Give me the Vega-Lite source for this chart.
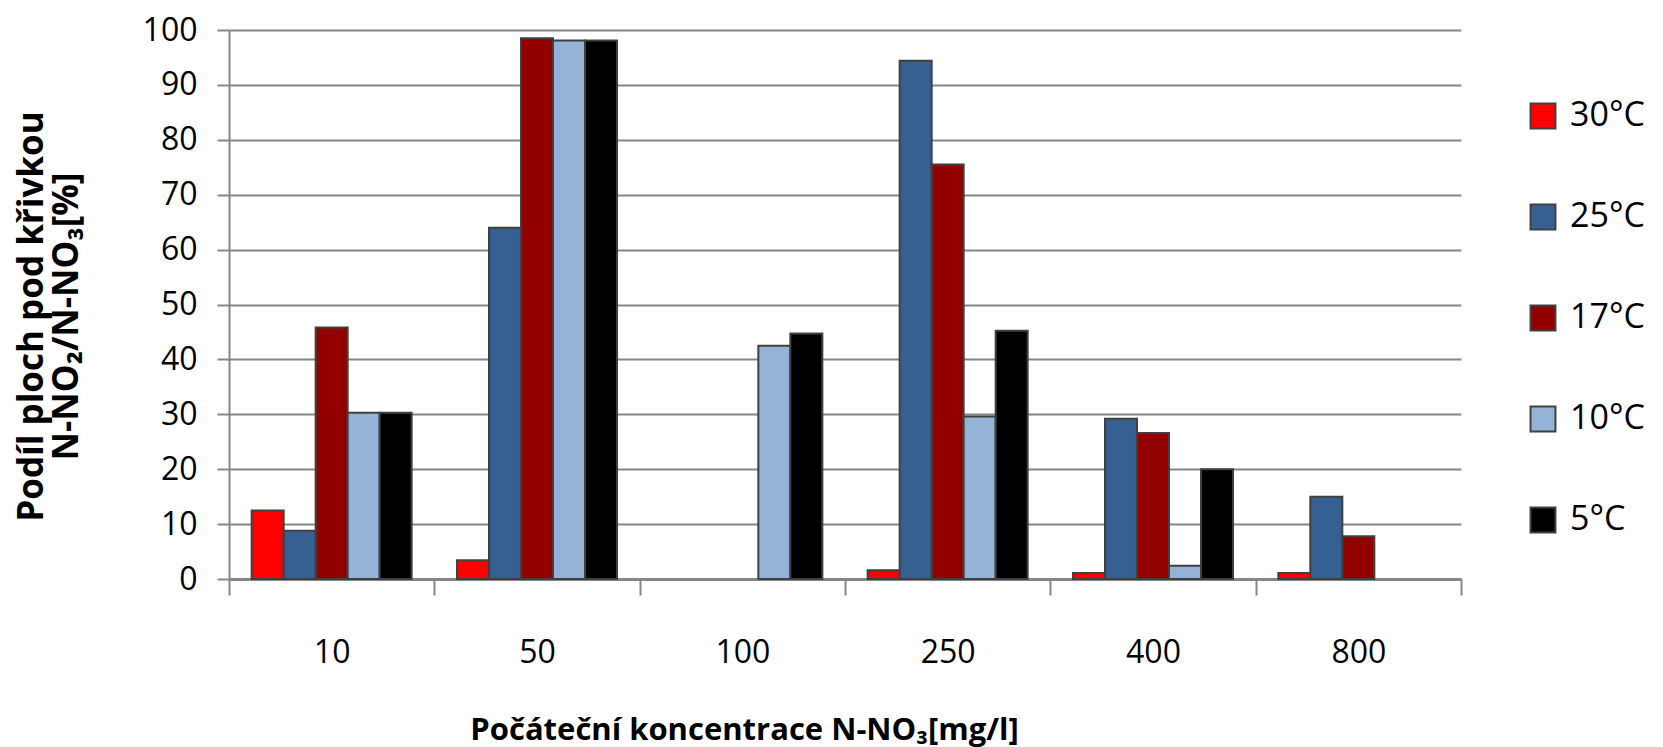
{
  "$schema": "https://vega.github.io/schema/vega-lite/v6.json",
  "autosize": {"type": "none"},
  "padding": {"left": 229, "top": 30, "right": 202, "bottom": 168},
  "width": 1232,
  "height": 549,
  "background": "white",
  "data": {
    "values": [
      {"konc": "10", "teplota": "30°C", "podil": 12.5},
      {"konc": "10", "teplota": "25°C", "podil": 8.8},
      {"konc": "10", "teplota": "17°C", "podil": 45.8},
      {"konc": "10", "teplota": "10°C", "podil": 30.3},
      {"konc": "10", "teplota": "5°C", "podil": 30.3},
      {"konc": "50", "teplota": "30°C", "podil": 3.4},
      {"konc": "50", "teplota": "25°C", "podil": 64.0},
      {"konc": "50", "teplota": "17°C", "podil": 98.5},
      {"konc": "50", "teplota": "10°C", "podil": 98.1},
      {"konc": "50", "teplota": "5°C", "podil": 98.1},
      {"konc": "100", "teplota": "10°C", "podil": 42.5},
      {"konc": "100", "teplota": "5°C", "podil": 44.7},
      {"konc": "250", "teplota": "30°C", "podil": 1.6},
      {"konc": "250", "teplota": "25°C", "podil": 94.4},
      {"konc": "250", "teplota": "17°C", "podil": 75.5},
      {"konc": "250", "teplota": "10°C", "podil": 29.6},
      {"konc": "250", "teplota": "5°C", "podil": 45.2},
      {"konc": "400", "teplota": "30°C", "podil": 1.1},
      {"konc": "400", "teplota": "25°C", "podil": 29.2},
      {"konc": "400", "teplota": "17°C", "podil": 26.6},
      {"konc": "400", "teplota": "10°C", "podil": 2.4},
      {"konc": "400", "teplota": "5°C", "podil": 20.0},
      {"konc": "800", "teplota": "30°C", "podil": 1.1},
      {"konc": "800", "teplota": "25°C", "podil": 15.0},
      {"konc": "800", "teplota": "17°C", "podil": 7.8}
    ]
  },
  "mark": {"type": "bar", "stroke": "#404040", "strokeWidth": 2},
  "encoding": {
    "x": {
      "field": "konc",
      "type": "ordinal",
      "sort": ["10", "50", "100", "250", "400", "800"],
      "scale": {"paddingInner": 0, "paddingOuter": 0},
      "axis": {
        "title": "Počáteční koncentrace N-NO₃[mg/l]",
        "titleFont": "Open Sans",
        "titleFontSize": 31,
        "titleFontWeight": "bold",
        "titleColor": "black",
        "titleX": 515,
        "titleY": 151,
        "titleAlign": "center",
        "titleBaseline": "middle",
        "labelAngle": 0,
        "labelFont": "Open Sans",
        "labelFontSize": 32,
        "labelColor": "black",
        "labelBaseline": "middle",
        "labelPadding": 57,
        "tickBand": "extent",
        "tickSize": 16,
        "tickWidth": 2,
        "tickColor": "#868686",
        "domainColor": "#868686",
        "domainWidth": 3,
        "grid": false
      }
    },
    "xOffset": {
      "field": "teplota",
      "type": "nominal",
      "sort": ["30°C", "25°C", "17°C", "10°C", "5°C"],
      "scale": {"paddingInner": 0, "paddingOuter": 0.708}
    },
    "y": {
      "field": "podil",
      "type": "quantitative",
      "scale": {"domain": [0, 100], "nice": false},
      "axis": {
        "title": ["Podíl ploch pod křivkou", "N-NO₂/N-NO₃[%]"],
        "titleFont": "Open Sans",
        "titleFontSize": 35,
        "titleFontWeight": "bold",
        "titleColor": "black",
        "titleLineHeight": 35,
        "titleX": -180,
        "titleY": 286,
        "titleAngle": -90,
        "titleAlign": "center",
        "titleBaseline": "bottom",
        "values": [0, 10, 20, 30, 40, 50, 60, 70, 80, 90, 100],
        "labelFont": "Open Sans",
        "labelFontSize": 32,
        "labelColor": "black",
        "labelPadding": 20,
        "tickSize": 12,
        "tickWidth": 2,
        "tickColor": "#868686",
        "domainColor": "#868686",
        "domainWidth": 2,
        "grid": true,
        "gridColor": "#868686",
        "gridWidth": 2,
        "gridOpacity": 1
      }
    },
    "color": {
      "field": "teplota",
      "type": "nominal",
      "scale": {
        "domain": ["30°C", "25°C", "17°C", "10°C", "5°C"],
        "range": ["#FF0000", "#376092", "#920000", "#95B3D7", "#000000"]
      },
      "legend": {
        "title": null,
        "orient": "none",
        "legendX": 1297,
        "legendY": 69,
        "direction": "vertical",
        "symbolType": "square",
        "symbolSize": 620,
        "symbolStrokeColor": "#404040",
        "symbolStrokeWidth": 2,
        "symbolOpacity": 1,
        "labelFont": "Open Sans",
        "labelFontSize": 34,
        "labelColor": "black",
        "labelOffset": 10,
        "labelLimit": 200,
        "rowPadding": 67
      }
    }
  },
  "config": {"view": {"stroke": null}}
}
